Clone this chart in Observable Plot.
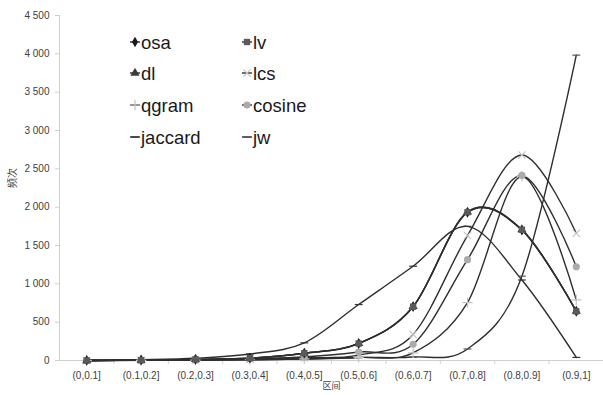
<!DOCTYPE html>
<html><head><meta charset="utf-8">
<script src="https://cdn.jsdelivr.net/npm/d3@7"></script>
<script src="https://cdn.jsdelivr.net/npm/@observablehq/plot@0.6"></script>
<style>
body{margin:0;background:#fff}
#wrap{position:relative;width:603px;height:395px;font-family:"Liberation Sans",Arial,sans-serif}
#legend{position:absolute;left:0;top:0;width:603px;height:395px;pointer-events:none}
</style></head><body><div id="wrap"></div>
<script>
const categories = ["(0,0.1]","(0.1,0.2]","(0.2,0.3]","(0.3,0.4]","(0.4,0.5]","(0.5,0.6]","(0.6,0.7]","(0.7,0.8]","(0.8,0.9]","(0.9,1]"];
const seriesNames = ["osa","lv","dl","lcs","qgram","cosine","jaccard","jw"];
const osa     = [0, 5, 15, 30, 95, 220, 700, 1930, 1700, 640];
const lv      = [0, 5, 15, 30, 95, 222, 702, 1935, 1705, 642];
const dl      = [0, 5, 15, 30, 96, 224, 705, 1938, 1708, 645];
const lcs     = [0, 2, 6, 15, 35, 70, 340, 1630, 2680, 1660];
const qgram   = [0, 2, 5, 10, 20, 40, 100, 756, 2400, 790];
const cosine  = [0, 3, 8, 25, 45, 110, 212, 1315, 2414, 1223];
const jaccard = [0, 10, 30, 85, 230, 730, 1230, 1750, 1050, 40];
const jw      = [0, 1, 3, 8, 20, 40, 45, 150, 1100, 3983];
const yTicks = [0, 500, 1000, 1500, 2000, 2500, 3000, 3500, 4000, 4500];

const values = {osa, lv, dl, lcs, qgram, cosine, jaccard, jw};
const rows = [];
for (const s of seriesNames) values[s].forEach((v, i) => rows.push({s, i, v}));

const dash = {draw(ctx, size){ const w = Math.sqrt(size) * 1.3; ctx.moveTo(-w/2, 0); ctx.lineTo(w/2, 0); }};
const style = {
  osa:    {symbol:"diamond", fill:"#1a1a1a", stroke:"none", r:3.2},
  lv:     {symbol:"square",  fill:"#5a5a5a", stroke:"none", r:3.6},
  dl:     {symbol:"triangle",fill:"#3a3a3a", stroke:"none", r:3.4},
  lcs:    {symbol:"times",   fill:"none", stroke:"#c4c4c4", r:3.4},
  qgram:  {symbol:"plus",    fill:"none", stroke:"#c4c4c4", r:3.4},
  cosine: {symbol:"circle",  fill:"#ababab", stroke:"none", r:3.6},
  jaccard:{symbol:dash,      fill:"none", stroke:"#333", r:3.4},
  jw:     {symbol:dash,      fill:"none", stroke:"#555", r:3.4}
};
const dotOrder = ["jw","jaccard","qgram","lcs","cosine","dl","osa","lv"];

const fmt = d => d3.format(",")(d).replace(/,/g, " ");

const chart = Plot.plot({
  width: 603, height: 395,
  marginLeft: 59, marginRight: 0, marginTop: 15, marginBottom: 35,
  style: {fontFamily: "Liberation Sans, Arial, sans-serif", background: "#fff"},
  x: {type: "linear", domain: [-0.5, 9.5]},
  y: {domain: [0, 4500]},
  marks: [
    Plot.ruleX([-0.5], {y1: 0, y2: 4500, stroke: "#cfcfcf"}),
    Plot.ruleY([0], {stroke: "#cfcfcf"}),
    Plot.axisY({ticks: yTicks, tickFormat: fmt, tickSize: 4, tickPadding: 6, fontSize: 10, stroke: "#cfcfcf", fill: "#404040", label: null}),
    Plot.axisX({ticks: d3.range(0.5, 9.6, 1), tickFormat: () => "", tickSize: 4, stroke: "#cfcfcf", label: null}),
    Plot.axisX({ticks: d3.range(0, 10), tickFormat: i => categories[i], tickSize: 0, tickPadding: 11, fontSize: 10, fill: "#404040", label: null}),
    Plot.text(["频次"], {frameAnchor: "left", dx: -47, rotate: -90, fontSize: 10, fill: "#404040", fontFamily: "Noto Sans CJK SC"}),
    Plot.text(["区间"], {frameAnchor: "bottom", dy: 28, fontSize: 9, fill: "#404040", fontFamily: "Noto Sans CJK SC"}),
    Plot.line(rows, {x: "i", y: "v", z: "s", stroke: "#2e2e2e", strokeWidth: 1.4, curve: "cardinal", tension: 0}),
    ...dotOrder.map(s => Plot.dot(rows.filter(d => d.s === s), {x: "i", y: "v", ...style[s], strokeWidth: 1.2}))
  ]
});
const wrap = document.getElementById("wrap");
wrap.appendChild(chart);

// legend overlay
const leg = d3.select(wrap).append("svg").attr("id", "legend").attr("width", 603).attr("height", 395);
const cols = [135, 247];
const rowsY = [42, 73, 105, 137];
seriesNames.forEach((s, k) => {
  const cx = cols[k % 2], cy = rowsY[Math.floor(k / 2)];
  const g = leg.append("g").attr("transform", `translate(${cx},${cy})`);
  g.append("line").attr("x1", -5).attr("x2", 5).attr("stroke", "#2e2e2e").attr("stroke-width", 1.4);
  const st = style[s];
  const type = typeof st.symbol === "string" ? {diamond:d3.symbolDiamond, square:d3.symbolSquare, triangle:d3.symbolTriangle, times:d3.symbolTimes, plus:d3.symbolPlus, circle:d3.symbolCircle}[st.symbol] : st.symbol;
  g.append("path").attr("d", d3.symbol(type, st.r * st.r * Math.PI)())
    .attr("fill", st.fill).attr("stroke", st.stroke === "none" ? "none" : st.stroke).attr("stroke-width", 1.2);
  g.append("text").attr("x", 6).attr("y", 6.5).attr("font-size", 18.5).attr("fill", "#1a1a1a")
    .attr("font-family", "Liberation Sans, Arial, sans-serif").text(s);
});
</script></body></html>
